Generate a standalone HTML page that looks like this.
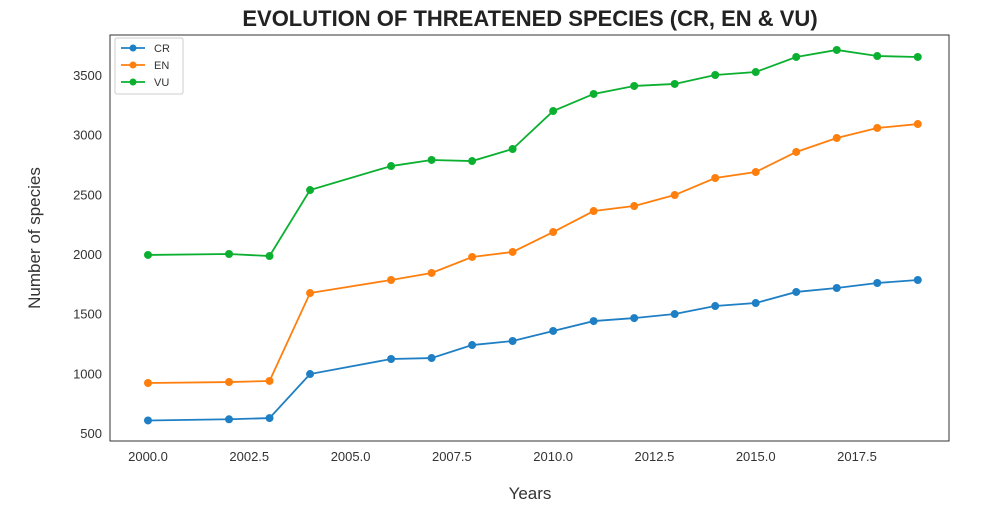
<!DOCTYPE html>
<html><head><meta charset="utf-8"><style>
body{margin:0;background:#fff;}
svg text{font-family:"Liberation Sans",sans-serif;}
</style></head><body>
<svg id="chart" width="988" height="514">
<text x="530" y="26" text-anchor="middle" font-size="22" font-weight="bold" fill="#222">EVOLUTION OF THREATENED SPECIES (CR, EN &amp; VU)</text>
<rect x="110" y="35" width="839" height="406" fill="none" stroke="#333" stroke-width="1"/>
<g id="ticks"></g>
<g id="series"></g>
<text x="530" y="499" text-anchor="middle" font-size="17" fill="#333">Years</text>
<text transform="translate(40,238) rotate(-90)" text-anchor="middle" font-size="17" fill="#333">Number of species</text>
<g id="legend">
<rect x="115" y="38" width="68" height="56" fill="#fff" stroke="#ccc" rx="2"/>
</g>
</svg>
<script>
const years=[2000,2002,2003,2004,2006,2007,2008,2009,2010,2011,2012,2013,2014,2015,2016,2017,2018,2019];
const cr=[605,615,625,994,1120,1128,1237,1271,1355,1438,1463,1497,1564,1589,1682,1715,1757,1782];
const en=[919,927,936,1673,1782,1841,1975,2017,2184,2360,2402,2494,2637,2687,2855,2972,3056,3089];
const vu=[1992,2000,1983,2536,2737,2788,2779,2880,3198,3341,3408,3425,3500,3525,3651,3710,3659,3651];
const xTicks=[2000,2002.5,2005,2007.5,2010,2012.5,2015,2017.5];
const yTicks=[500,1000,1500,2000,2500,3000,3500];
const names=["CR","EN","VU"];
const colors=["#1f7fc4","#ff7f0e","#0cb031"];
const ns="http://www.w3.org/2000/svg";
const X=v=>148+(v-2000)*(857-148)/17.5;
const Y=v=>433-(v-500)*(433-75)/3000;
function mk(tag,attrs,parent){const e=document.createElementNS(ns,tag);for(const k in attrs)e.setAttribute(k,attrs[k]);parent.appendChild(e);return e;}
const tg=document.getElementById('ticks');
xTicks.forEach(t=>{const e=mk('text',{x:X(t),y:461,'text-anchor':'middle','font-size':13,fill:'#333'},tg);e.textContent=t.toFixed(1);

});
yTicks.forEach(t=>{const e=mk('text',{x:102,y:Y(t)+5,'text-anchor':'end','font-size':13,fill:'#333'},tg);e.textContent=t;

});
const sg=document.getElementById('series');
[cr,en,vu].forEach((d,i)=>{
const g=mk('g',{},sg);


mk('polyline',{points:d.map((v,j)=>X(years[j])+','+Y(v)).join(' '),fill:'none',stroke:colors[i],'stroke-width':1.8},g);
d.forEach((v,j)=>{const c=mk('circle',{cx:X(years[j]),cy:Y(v),r:4,fill:colors[i]},g);

});
});
const lg=document.getElementById('legend');
names.forEach((n,i)=>{const y=48+i*17;
const g=mk('g',{},lg);


mk('line',{x1:121,x2:145,y1:y,y2:y,stroke:colors[i],'stroke-width':1.8},g);
mk('circle',{cx:133,cy:y,r:3.5,fill:colors[i]},g);
const t=mk('text',{x:154,y:y+4,'font-size':11,fill:'#333'},g);t.textContent=n;});
</script>
</body></html>
